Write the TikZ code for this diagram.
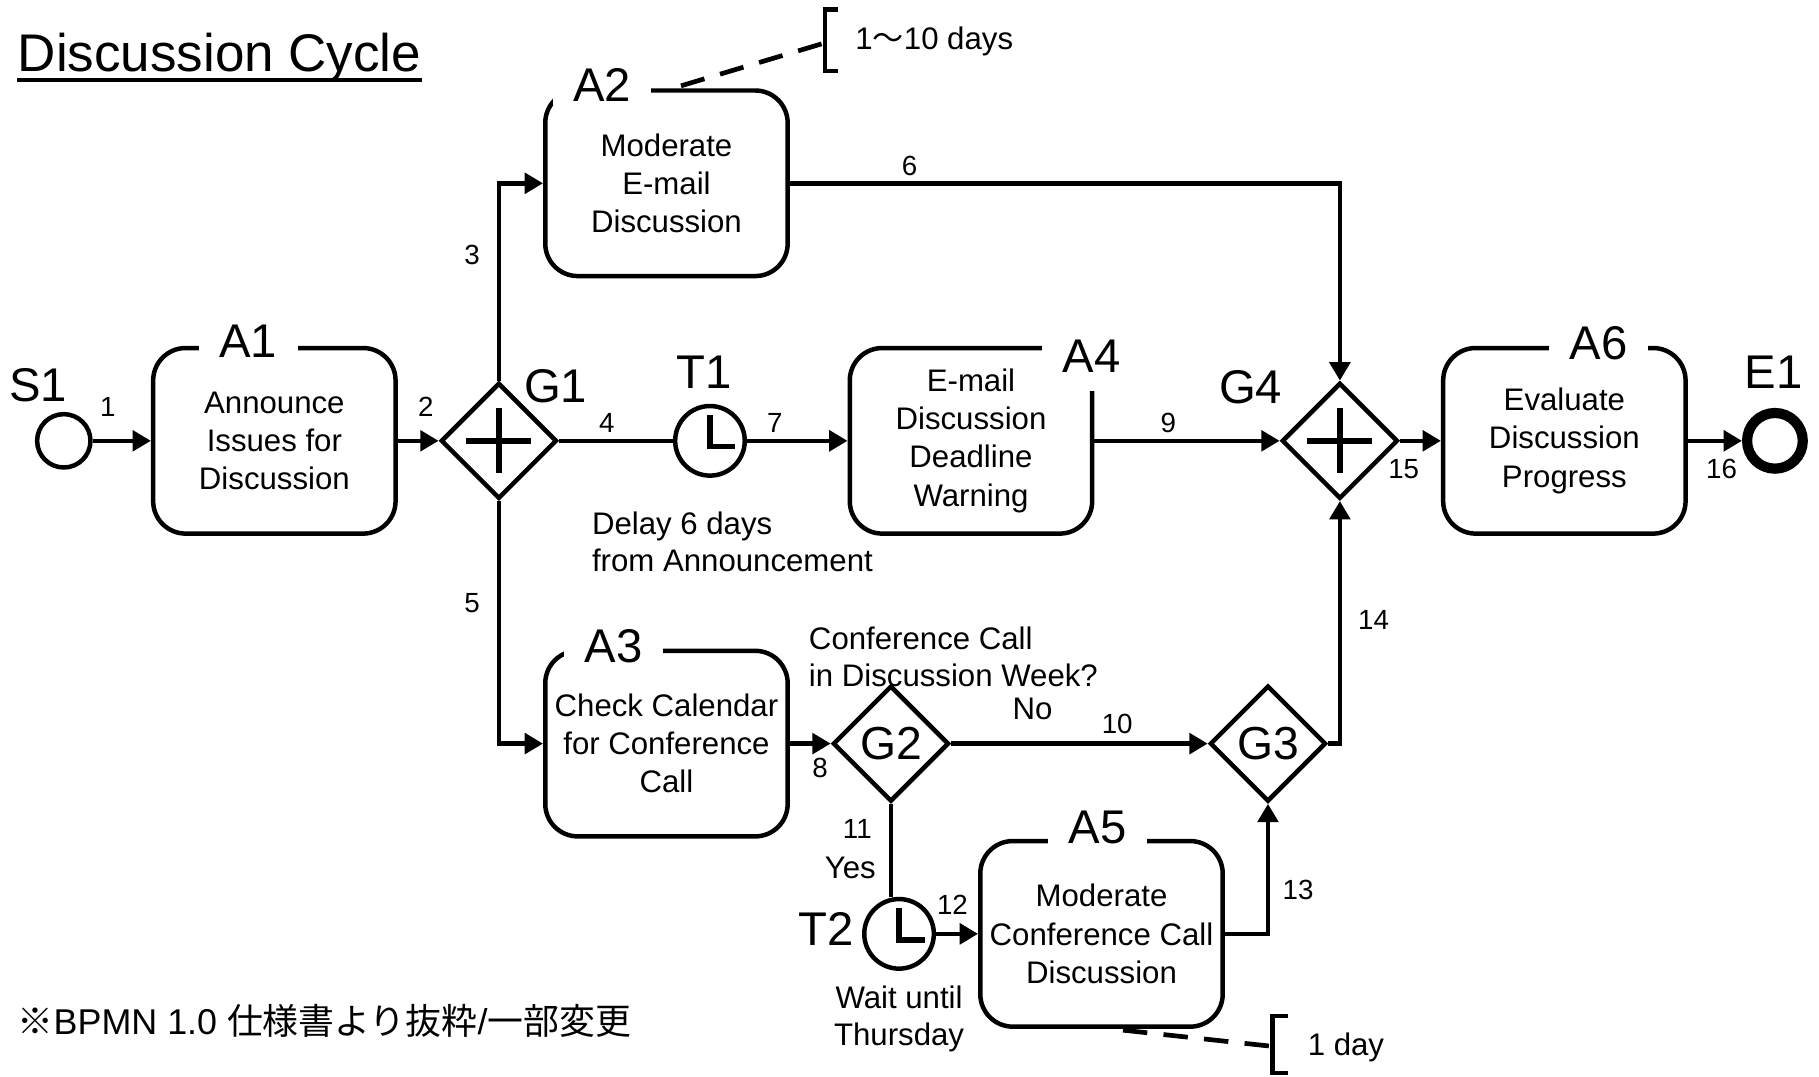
\documentclass[tikz,border=0pt]{standalone}
\usepackage{fontspec}
\setmainfont{Liberation Sans}
\newfontfamily\jpfont{Noto Sans CJK JP}
\usetikzlibrary{
  arrows.meta,      % 实心三角箭头
  calc,             % 坐标计算
  shapes.geometric  % 网关用的菱形
}
\tikzset{
  task box/.style={
    draw,
    line width=2.2pt,
    rounded corners=0.56cm,
    minimum width=4.18cm,
    minimum height=3.2cm,
    align=center,
    font=\fontsize{15.3}{18.7}\selectfont
  },
  gate/.style={
    diamond,
    draw,
    line width=2.2pt,
    inner sep=0pt,
    minimum width=2.0cm,
    minimum height=2.0cm,
    font=\fontsize{22.7}{26}\selectfont
  },
  start event/.style={
    circle,
    draw,
    line width=2.2pt,
    inner sep=0pt,
    minimum size=0.92cm
  },
  end event/.style={
    circle,
    draw,
    line width=5pt,
    inner sep=0pt,
    minimum size=0.96cm
  },
  timer event/.style={
    circle,
    draw,
    line width=2.2pt,
    inner sep=0pt,
    minimum size=1.2cm
  },
  flow/.style={
    -{Triangle[length=9pt,width=10pt]},
    line width=2.2pt
  },
  plain flow/.style={
    -,
    line width=2.2pt
  },
  clock hand/.style={
    line width=2.8pt
  },
  plus bar/.style={
    line width=3pt
  },
  elem label/.style={
    font=\fontsize{23.2}{26}\selectfont,
    inner sep=0pt
  },
  box label/.style={
    elem label,
    fill=white,
    inner xsep=10pt,
    inner ysep=2pt
  },
  seq num/.style={
    font=\fontsize{13.6}{16}\selectfont,
    inner sep=0pt
  },
  note text/.style={
    font=\fontsize{15.3}{18.2}\selectfont,
    inner sep=0pt
  },
  note line/.style={
    line width=2.3pt,
    dash pattern=on 12pt off 8pt
  }
}

\begin{document}
\begin{tikzpicture}[x=0.02cm, y=-0.02cm] % 以参考图的像素为单位，y 轴向下
  \useasboundingbox (0,0) rectangle (1568,928); % 固定画布大小

  % 标题（下划线单独画）
  \node[anchor=base west, inner sep=0pt, font=\fontsize{26}{30}\selectfont] (title) at (15,62) {Discussion Cycle};
  \draw[line width=1.6pt] ([yshift=-4pt]title.base west) -- ([yshift=-4pt]title.base east); % 标题下划线

  % 主行：开始事件、任务、网关、定时器、结束事件
  \node[start event] (S1) at (55,380) {};
  \node[task box] (A1) at (236.5,380) {Announce\\Issues for\\Discussion};
  \node[gate] (G1) at (430,380) {};
  \node[timer event] (T1) at (612,380) {};
  \node[task box] (A4) at (837,380) {E-mail\\Discussion\\Deadline\\Warning};
  \node[gate] (G4) at (1155,380) {};
  \node[task box] (A6) at (1348.5,380) {Evaluate\\Discussion\\Progress};
  \node[end event] (E1) at (1530,380) {};

  % 上下两条分支
  \node[task box] (A2) at (574.5,158) {Moderate\\E-mail\\Discussion};
  \node[task box] (A3) at (574.5,641) {Check Calendar\\for Conference\\Call};
  \node[gate] (G2) at (768,641) {G2};
  \node[gate] (G3) at (1093,641) {G3};
  \node[timer event] (T2) at (775,805) {};
  \node[task box] (A5) at (949.5,805) {Moderate\\Conference Call\\Discussion};

  % 并行网关里的十字
  \draw[plus bar] ($(G1)+(-28,0)$) -- ($(G1)+(28,0)$) ($(G1)+(0,-28)$) -- ($(G1)+(0,28)$);
  \draw[plus bar] ($(G4)+(-28,0)$) -- ($(G4)+(28,0)$) ($(G4)+(0,-28)$) -- ($(G4)+(0,28)$);

  % 定时器的指针
  \draw[clock hand] ($(T1)+(0,-22)$) -- ($(T1)+(0,5)$) -- ($(T1)+(22,5)$);
  \draw[clock hand] ($(T2)+(0,-22)$) -- ($(T2)+(0,5)$) -- ($(T2)+(22,5)$);

  % 顺序流
  \draw[flow] (S1) -- (A1);
  \draw[flow] (A1) -- (G1);
  \draw[plain flow] (G1) -- (T1);
  \draw[flow] (T1) -- (A4);
  \draw[flow] (A4) -- (G4);
  \draw[flow] (G4) -- (A6);
  \draw[flow] (A6) -- (E1);
  \draw[flow] (G1.north) |- (A2.west);
  \draw[flow] (A2.east) -| (G4.north);
  \draw[flow] (G1.south) |- (A3.west);
  \draw[flow] (A3) -- (G2);
  \draw[flow] (G2) -- (G3);
  \draw[plain flow] (G2.south) -- (G2.south |- T2.north);
  \draw[flow] (T2) -- (A5);
  \draw[flow] (A5.east) -| (G3.south);
  \draw[flow] (G3.east) -| (G4.south);

  % 元素名称（任务名盖住边框）
  \node[elem label] (S1lab) at (33,332) {S1};
  \node[elem label] (E1lab) at (1529,321) {E1};
  \node[elem label] (T1lab) at (607,321) {T1};
  \node[elem label] (T2lab) at (712,801) {T2};
  \node[elem label] (G1lab) at (479,333) {G1};
  \node[elem label] (G4lab) at (1078,334) {G4};
  \node[box label] (A1lab) at (214,294) {A1};
  \node[box label] (A2lab) at (519,73) {A2};
  \node[box label] (A3lab) at (529,557) {A3};
  \node[box label, inner ysep=9pt] (A4lab) at (941,307) {A4};
  \node[box label] (A5lab) at (946,713) {A5};
  \node[box label] (A6lab) at (1378,296) {A6};

  % 顺序流编号
  \node[seq num] (n1) at (93,351) {1};
  \node[seq num] (n2) at (367,351) {2};
  \node[seq num] (n3) at (407,220) {3};
  \node[seq num] (n4) at (523,365) {4};
  \node[seq num] (n5) at (407,520) {5};
  \node[seq num] (n6) at (784,143) {6};
  \node[seq num] (n7) at (668,365) {7};
  \node[seq num] (n8) at (707,662) {8};
  \node[seq num] (n9) at (1007,365) {9};
  \node[seq num] (n10) at (963,624) {10};
  \node[seq num] (n11) at (739,715) {11};
  \node[seq num] (n12) at (821,780) {12};
  \node[seq num] (n13) at (1119,767) {13};
  \node[seq num] (n14) at (1184,534) {14};
  \node[seq num] (n15) at (1210,404) {15};
  \node[seq num] (n16) at (1484,404) {16};

  % 说明文字
  \node[note text, anchor=west, align=left] (delay) at (510,467) {Delay 6 days\\from Announcement};
  \node[note text, anchor=west, align=left] (ask) at (697,566) {Conference Call\\in Discussion Week?};
  \node[note text] (no) at (890,611) {No};
  \node[note text] (yes) at (733,748) {Yes};
  \node[note text, align=center] (wait) at (775,878) {Wait until\\Thursday};

  % 注释：A2 的持续时间
  \coordinate (A2note) at (587,74);
  \coordinate (brkA2) at (711,37);
  \draw[note line] (A2note) -- (brkA2);
  \draw[line width=2.2pt] (722,8) -- (711,8) -- (711,61) -- (722,61); % 方括号
  \node[note text, anchor=west] (days) at (737,36) {1{\jpfont ～}10 days};

  % 注释：A5 的持续时间
  \coordinate (A5note) at (968,888);
  \coordinate (brkA5) at (1097,902);
  \draw[note line] (A5note) -- (brkA5);
  \draw[line width=2.2pt] (1110,876) -- (1097,876) -- (1097,925) -- (1110,925); % 方括号
  \node[note text, anchor=west] (oneday) at (1127,903) {1 day};

  % 出处
  \node[anchor=west, inner sep=0pt, font=\fontsize{17.6}{20}\selectfont] (src) at (15,880) {{\jpfont ※}BPMN 1.0 {\jpfont 仕様書より抜粋}/{\jpfont 一部変更}};

\end{tikzpicture}
\end{document}
